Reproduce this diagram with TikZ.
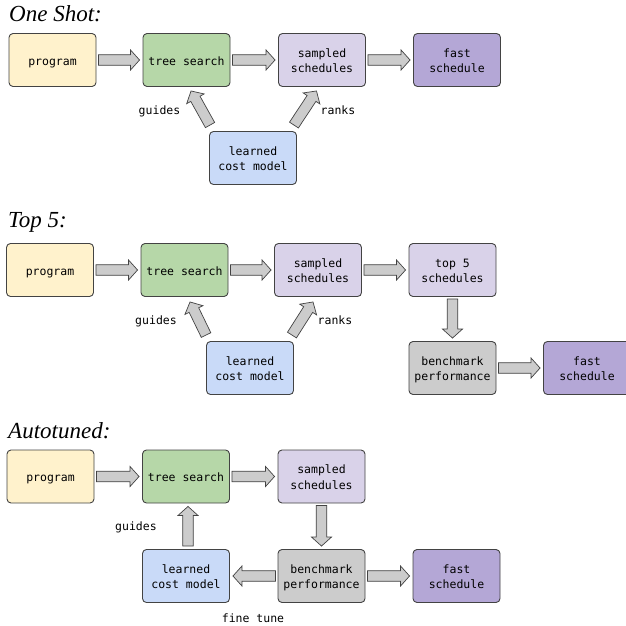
\documentclass[tikz,border=0pt]{standalone}
\usepackage{fontspec}
\setmainfont{Liberation Serif}
\setmonofont{DejaVu Sans Mono}
\usetikzlibrary{calc}
\definecolor{cyellow}{HTML}{FFF2CC}
\definecolor{cgreen}{HTML}{B6D7A8}
\definecolor{clpurple}{HTML}{D9D2E9}
\definecolor{cpurple}{HTML}{B4A7D6}
\definecolor{cblue}{HTML}{C9DAF8}
\definecolor{cgray}{HTML}{CCCCCC}
\definecolor{boxline}{HTML}{434343}
\tikzset{
  box/.style={draw=boxline, line width=0.9pt, rounded corners=4pt,
    minimum width=87pt, minimum height=53pt, inner sep=0pt,
    font=\ttfamily\fontsize{11.5}{15.3}\selectfont},
  lbl/.style={font=\ttfamily\fontsize{11.5}{15.3}\selectfont, inner sep=0pt},
  ttl/.style={font=\itshape\fontsize{23}{27}\selectfont, anchor=base west, inner sep=0pt},
  barrow/.style={draw=boxline, fill=cgray, line width=0.7pt, line join=miter}
}
\newcommand\bt[1]{\raisebox{0pt}[\dimexpr\height+4pt\relax][\depth]{\begin{tabular}{@{}c@{}}#1\end{tabular}}}
\newcommand\blockarrow[2]{%
  \draw[barrow] let \p1=(#1), \p2=(#2),
    \n1={atan2(\y2-\y1,\x2-\x1)}, \n2={veclen(\x2-\x1,\y2-\y1)} in
    [shift={(\p1)}, rotate=\n1]
    (0pt,-5.3pt) -- ({(\n2-9)*1pt},-5.3pt) -- ({(\n2-9)*1pt},-10pt) -- ({\n2*1pt},0pt)
    -- ({(\n2-9)*1pt},10pt) -- ({(\n2-9)*1pt},5.3pt) -- (0pt,5.3pt) -- cycle;}
\begin{document}
\begin{tikzpicture}[x=1pt,y=-1pt]
\useasboundingbox (0,0) rectangle (626,626);
\clip (0,0) rectangle (626,626);
% ---------- One Shot ----------
\node[ttl] (title1) at (9,22) {One Shot:};
\node[box, fill=cyellow] (p1) at (52.5,60) {\bt{program}};
\node[box, fill=cgreen] (t1) at (186.5,60) {\bt{tree search}};
\node[box, fill=clpurple] (s1) at (322,60) {\bt{sampled\\schedules}};
\node[box, fill=cpurple] (f1) at (457,60) {\bt{fast\\schedule}};
\node[box, fill=cblue] (l1) at (253,158) {\bt{learned\\cost model}};
\node[lbl] (g1) at (159.5,111) {guides};
\node[lbl] (r1) at (338,110.6) {ranks};
\blockarrow{$(p1.east)+(2,0)$}{$(t1.west)+(-3,0)$}
\blockarrow{$(t1.east)+(2,0)$}{$(s1.west)+(-3,0)$}
\blockarrow{$(s1.east)+(2,0)$}{$(f1.west)+(-3,0)$}
\blockarrow{$(l1.north west)+(1,-6)$}{$(t1.south)+(4.5,4)$}
\blockarrow{$(l1.north east)+(-3,-6)$}{$(s1.south)+(-5.5,4)$}
% ---------- Top 5 ----------
\node[ttl] (title2) at (8,227) {Top 5:};
\node[box, fill=cyellow] (p2) at (50,270) {\bt{program}};
\node[box, fill=cgreen] (t2) at (184.5,270) {\bt{tree search}};
\node[box, fill=clpurple] (s2) at (318,270) {\bt{sampled\\schedules}};
\node[box, fill=clpurple] (q2) at (452.5,270) {\bt{top 5\\schedules}};
\node[box, fill=cgray] (b2) at (452.5,368) {\bt{benchmark\\performance}};
\node[box, fill=cpurple] (f2) at (587,368) {\bt{fast\\schedule}};
\node[box, fill=cblue] (l2) at (250,368) {\bt{learned\\cost model}};
\node[lbl] (g2) at (156,321) {guides};
\node[lbl] (r2) at (335,320.6) {ranks};
\blockarrow{$(p2.east)+(2,0)$}{$(t2.west)+(-3,0)$}
\blockarrow{$(t2.east)+(2,0)$}{$(s2.west)+(-3,0)$}
\blockarrow{$(s2.east)+(2,0)$}{$(q2.west)+(-3,0)$}
\blockarrow{$(q2.south)+(0,2)$}{$(b2.north)+(0,-3)$}
\blockarrow{$(b2.east)+(2,0)$}{$(f2.west)+(-3,0)$}
\blockarrow{$(l2.north west)+(0,-6)$}{$(t2.south)+(5.5,5)$}
\blockarrow{$(l2.north east)+(-2,-6)$}{$(s2.south)+(-5,5)$}
% ---------- Autotuned ----------
\node[ttl] (title3) at (8,438) {Autotuned:};
\node[box, fill=cyellow] (p3) at (50.5,476.5) {\bt{program}};
\node[box, fill=cgreen] (t3) at (186,476.5) {\bt{tree search}};
\node[box, fill=clpurple] (s3) at (321.5,476.5) {\bt{sampled\\schedules}};
\node[box, fill=cgray] (b3) at (321.5,576) {\bt{benchmark\\performance}};
\node[box, fill=cpurple] (f3) at (456.5,576) {\bt{fast\\schedule}};
\node[box, fill=cblue] (l3) at (186,576) {\bt{learned\\cost model}};
\node[lbl] (g3) at (136,527.7) {guides};
\node[lbl] (ft) at (253,618.3) {fine tune};
\blockarrow{$(p3.east)+(2,0)$}{$(t3.west)+(-3,0)$}
\blockarrow{$(t3.east)+(2,0)$}{$(s3.west)+(-3,0)$}
\blockarrow{$(s3.south)+(0,2)$}{$(b3.north)+(0,-3)$}
\blockarrow{$(b3.east)+(2,0)$}{$(f3.west)+(-3,0)$}
\blockarrow{$(b3.west)+(-2,0)$}{$(l3.east)+(3,0)$}
\blockarrow{$(l3.north)+(2,-3)$}{$(t3.south)+(2,3)$}
\end{tikzpicture}
\end{document}
